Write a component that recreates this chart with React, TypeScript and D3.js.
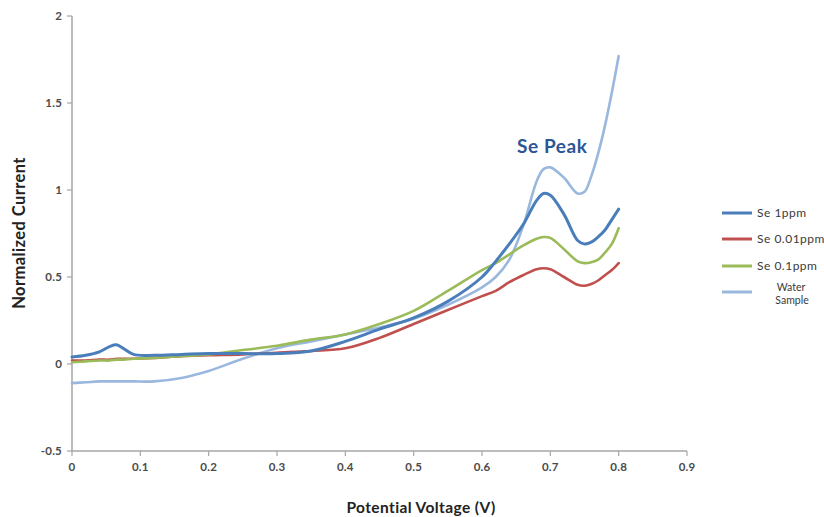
import React from "react";
import * as d3 from "d3";

const voltage = [0, 0.02, 0.04, 0.055, 0.065, 0.075, 0.09, 0.12, 0.16, 0.2, 0.25, 0.3, 0.35, 0.4, 0.45, 0.5, 0.55, 0.6, 0.62, 0.64, 0.66, 0.68, 0.69, 0.7, 0.72, 0.74, 0.75, 0.76, 0.77, 0.78, 0.79, 0.8];
const se1ppm = [0.04, 0.05, 0.07, 0.1, 0.11, 0.09, 0.055, 0.05, 0.055, 0.06, 0.06, 0.06, 0.075, 0.13, 0.2, 0.265, 0.36, 0.5, 0.59, 0.69, 0.8, 0.94, 0.98, 0.97, 0.86, 0.71, 0.69, 0.7, 0.73, 0.77, 0.83, 0.89];
const se001ppm = [0.02, 0.02, 0.025, 0.025, 0.03, 0.03, 0.03, 0.035, 0.045, 0.05, 0.055, 0.065, 0.075, 0.09, 0.15, 0.23, 0.31, 0.39, 0.42, 0.47, 0.51, 0.545, 0.55, 0.545, 0.5, 0.455, 0.45, 0.46, 0.48, 0.51, 0.54, 0.58];
const se01ppm = [0.01, 0.015, 0.02, 0.02, 0.025, 0.025, 0.03, 0.035, 0.045, 0.055, 0.08, 0.105, 0.14, 0.17, 0.23, 0.305, 0.42, 0.54, 0.58, 0.63, 0.68, 0.72, 0.73, 0.725, 0.66, 0.59, 0.58, 0.585, 0.6, 0.64, 0.69, 0.78];
const waterSample = [-0.11, -0.105, -0.1, -0.1, -0.1, -0.1, -0.1, -0.1, -0.08, -0.04, 0.03, 0.09, 0.13, 0.17, 0.21, 0.26, 0.34, 0.44, 0.5, 0.6, 0.79, 1.05, 1.12, 1.13, 1.07, 0.98, 0.99, 1.08, 1.21, 1.37, 1.56, 1.77];

const xTicks = [0, 0.1, 0.2, 0.3, 0.4, 0.5, 0.6, 0.7, 0.8, 0.9];
const yTicks = [-0.5, 0, 0.5, 1, 1.5, 2];

const seriesNames = ["Se 1ppm", "Se 0.01ppm", "Se 0.1ppm", "Water Sample"];
const seriesColors = ["#4a7ebb", "#c0504d", "#9bbb59", "#9ab8de"];
const seriesValues = [se1ppm, se001ppm, se01ppm, waterSample];
const drawOrder = [3, 1, 2, 0];

export default function App() {
  const x = d3.scaleLinear().domain([0, 0.9]).range([72, 687]);
  const y = d3.scaleLinear().domain([-0.5, 2]).range([451, 16]);
  const line = d3
    .line<number>()
    .x((_, i) => x(voltage[i]))
    .y((d) => y(d))
    .curve(d3.curveCatmullRom.alpha(0.5));
  const font = "Lato, 'Open Sans', sans-serif";
  const axisColor = "#a6a6a6";
  const legendY = [213, 239, 266, 292];

  return (
    <svg width={824} height={517} style={{ position: "absolute", left: 0, top: 0, background: "#fff" }} fontFamily={font}>
      {/* axes */}
      <line x1={x(0)} x2={x(0)} y1={y(-0.5)} y2={y(2)} stroke={axisColor} strokeWidth={1.5} />
      <line x1={x(0)} x2={x(0.9)} y1={y(-0.5)} y2={y(-0.5)} stroke={axisColor} strokeWidth={1.5} />
      {yTicks.map((t) => (
        <g key={"y" + t}>
          <line x1={x(0) - 5} x2={x(0)} y1={y(t)} y2={y(t)} stroke={axisColor} strokeWidth={1.2} />
          <text x={x(0) - 10} y={y(t)} dy="0.35em" textAnchor="end" fontSize={11.5} fontWeight="bold" letterSpacing={0.2} fill="#4a4a4a">
            {t}
          </text>
        </g>
      ))}
      {xTicks.map((t) => (
        <g key={"x" + t}>
          <line x1={x(t)} x2={x(t)} y1={y(-0.5)} y2={y(-0.5) + 5} stroke={axisColor} strokeWidth={1.2} />
          <text x={x(t)} y={y(-0.5) + 20} textAnchor="middle" fontSize={11.5} fontWeight="bold" letterSpacing={0.2} fill="#4a4a4a">
            {t}
          </text>
        </g>
      ))}
      <text
        transform={`translate(25,233) rotate(-90)`}
        textAnchor="middle"
        fontSize={16.5}
        fontWeight="bold"
        letterSpacing={0.4}
        fill="#222"
      >
        Normalized Current
      </text>
      <text x={421} y={513} textAnchor="middle" fontSize={15.5} fontWeight="bold" letterSpacing={0.4} fill="#222">
        Potential Voltage (V)
      </text>

      {/* series */}
      {drawOrder.map((i) => (
        <path
          key={seriesNames[i]}
          d={line(seriesValues[i]) || ""}
          fill="none"
          stroke={seriesColors[i]}
          strokeWidth={i === 0 ? 3 : 2.6}
          strokeLinejoin="round"
          strokeLinecap="round"
        />
      ))}

      <text x={517} y={153} fontSize={19} fontWeight="bold" letterSpacing={0.6} fill="#2b5595">
        Se Peak
      </text>

      {/* legend */}
      {seriesNames.map((n, i) => (
        <g key={"leg" + n}>
          <line x1={722} x2={752} y1={legendY[i]} y2={legendY[i]} stroke={seriesColors[i]} strokeWidth={3} />
          {i < 3 ? (
            <text x={757} y={legendY[i]} dy="0.35em" fontSize={12} letterSpacing={0.5} fill="#3a3a3a">
              {n}
            </text>
          ) : (
            <text textAnchor="middle" fontSize={10.5} fill="#3a3a3a">
              <tspan x={791} y={legendY[i] - 1}>Water</tspan>
              <tspan x={792} y={legendY[i] + 12}>Sample</tspan>
            </text>
          )}
        </g>
      ))}
    </svg>
  );
}
